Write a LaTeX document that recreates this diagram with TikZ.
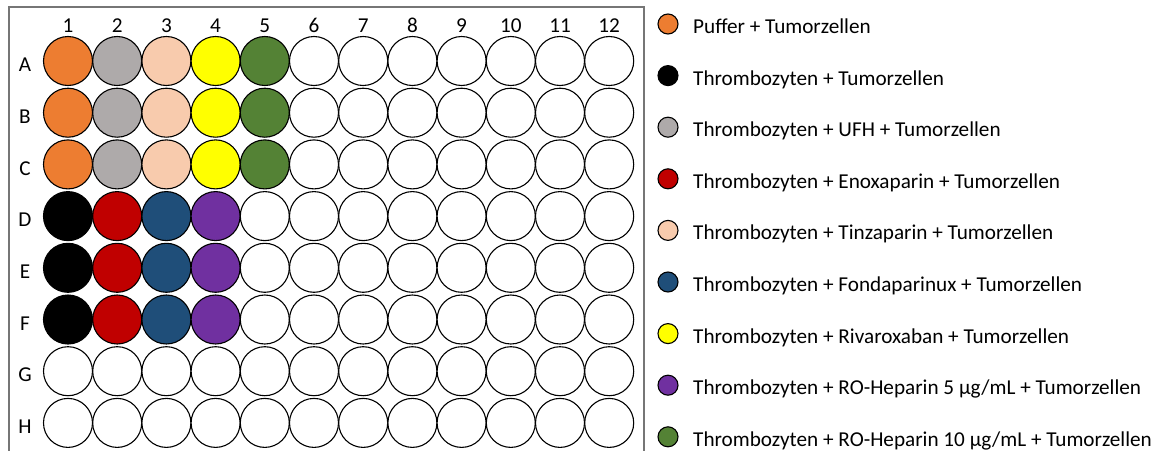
\documentclass[tikz,border=0pt]{standalone}
\usepackage{fontspec}
\setmainfont{Carlito}
\usetikzlibrary{positioning}
\definecolor{plateOrange}{RGB}{237,125,49}
\definecolor{plateGray}{RGB}{174,170,170}
\definecolor{platePeach}{RGB}{248,203,173}
\definecolor{plateYellow}{RGB}{255,255,0}
\definecolor{plateGreen}{RGB}{84,130,53}
\definecolor{plateRed}{RGB}{192,0,0}
\definecolor{plateBlue}{RGB}{31,78,121}
\definecolor{platePurple}{RGB}{112,48,160}
\definecolor{plateFrame}{RGB}{118,118,118}

\begin{document}
\begin{tikzpicture}[x=1pt,y=-1pt,
  well/.style={circle,draw,line width=1.1pt,minimum size=49pt,inner sep=0pt},
  key/.style={circle,draw,line width=1.1pt,minimum size=20pt,inner sep=0pt},
  lbl/.style={font=\fontsize{21.2}{25}\selectfont,inner sep=0pt}]
\useasboundingbox (0,0) rectangle (1162,450);
% plate frame, open at the bottom
\draw[plateFrame,line width=1.5pt] (9,470) -- (9,7) -- (644,7) -- (644,470);
% column numbers
\foreach \c in {1,...,12}
  \node[lbl,anchor=base] (col\c) at ({68+(\c-1)*49.2},32.7) {\c};
% wells, row by row
\foreach \r/\fl [count=\i] in {
  A/{plateOrange,plateGray,platePeach,plateYellow,plateGreen,white,white,white,white,white,white,white},
  B/{plateOrange,plateGray,platePeach,plateYellow,plateGreen,white,white,white,white,white,white,white},
  C/{plateOrange,plateGray,platePeach,plateYellow,plateGreen,white,white,white,white,white,white,white},
  D/{black,plateRed,plateBlue,platePurple,white,white,white,white,white,white,white,white},
  E/{black,plateRed,plateBlue,platePurple,white,white,white,white,white,white,white,white},
  F/{black,plateRed,plateBlue,platePurple,white,white,white,white,white,white,white,white},
  G/{white,white,white,white,white,white,white,white,white,white,white,white},
  H/{white,white,white,white,white,white,white,white,white,white,white,white}} {
  \node[lbl,anchor=base] (row\r) at (25,{61+(\i-1)*51.7+10.7}) {\r};
  \foreach \f [count=\c] in \fl
    \node[well,fill=\f] (w\r\c) at ({68+(\c-1)*49.2},{61+(\i-1)*51.7}) {};
}
% legend
\foreach \f/\t [count=\k] in {
  plateOrange/{Puffer + Tumorzellen},
  black/{Thrombozyten + Tumorzellen},
  plateGray/{Thrombozyten + UFH + Tumorzellen},
  plateRed/{Thrombozyten + Enoxaparin + Tumorzellen},
  platePeach/{Thrombozyten + Tinzaparin + Tumorzellen},
  plateBlue/{Thrombozyten + Fondaparinux + Tumorzellen},
  plateYellow/{Thrombozyten + Rivaroxaban + Tumorzellen},
  platePurple/{Thrombozyten + RO-Heparin 5 µg/mL + Tumorzellen},
  plateGreen/{Thrombozyten + RO-Heparin 10 µg/mL + Tumorzellen}} {
  \node[key,fill=\f] (key\k) at (668,{24+(\k-1)*51.6}) {};
  \node[lbl,anchor=base west] (txt\k) at (693,{24+(\k-1)*51.6+9.5}) {\t};
}
\end{tikzpicture}
\end{document}
